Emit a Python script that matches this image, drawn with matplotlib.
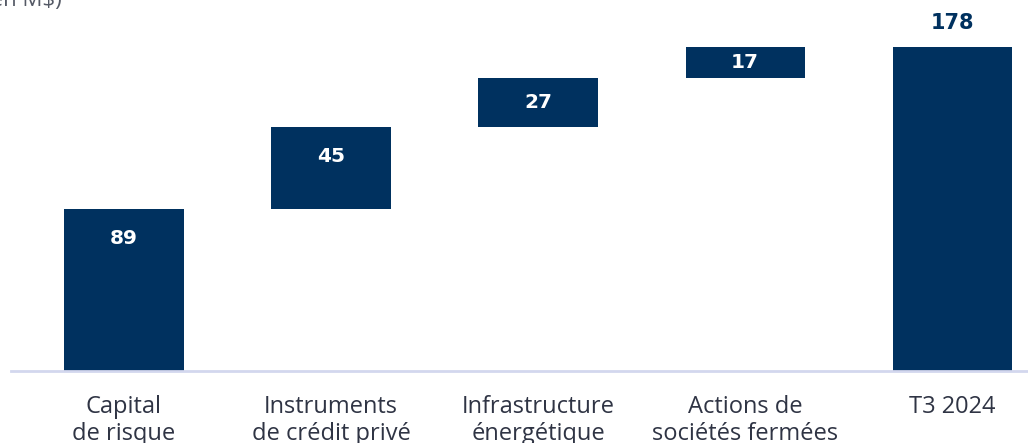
import matplotlib.pyplot as plt

# waterfall data (M$)
categories = ["Capital\nde risque", "Instruments\nde crédit privé", "Infrastructure\nénergétique",
              "Actions de\nsociétés fermées", "T3 2024"]
values = [89, 45, 27, 17, 178]
is_total = [False, False, False, False, True]

navy = "#00315f"
text_grey = "#2f3444"
plt.rcParams['font.family'] = ['Open Sans', 'DejaVu Sans']

fig = plt.figure(figsize=(10.28, 4.43), dpi=100)
ax = fig.add_axes([0, 0, 1, 1])

# running bottoms for the floating bars
bottoms = []
run = 0
for v, tot in zip(values, is_total):
    if tot:
        bottoms.append(0)
    else:
        bottoms.append(run)
        run += v

x = list(range(len(values)))
ax.bar(x, values, bottom=bottoms, width=0.575, color=navy, zorder=2)

for i, (v, b, tot) in enumerate(zip(values, bottoms, is_total)):
    if tot:
        ax.annotate(str(v), (i, b + v), xytext=(0, 10), textcoords="offset points",
                    ha="center", va="bottom", color=navy, family="DejaVu Sans",
                    fontsize=15, fontweight="bold")
    else:
        y = b + v - min(16, v / 2)
        ax.text(i, y, str(v), ha="center", va="center", color="white",
                family="DejaVu Sans", fontsize=14.5, fontweight="bold")
    ax.annotate(categories[i], (i, 0), xytext=(0, -17), textcoords="offset points",
                ha="center", va="top", fontsize=17, color=text_grey, linespacing=1.2)

ax.axhline(0, xmin=11 / 1028, xmax=1.0, color="#d3d7ee", lw=2, zorder=3)

ax.set_xlim(-0.599, 4.367)
ax.set_ylim(-39.6, 203.8)
ax.axis("off")

fig.text(0.06, 1.022, "(en M$)", ha="right", va="top", fontsize=16, color="#555a66")

fig.savefig("out.png", dpi=100)
